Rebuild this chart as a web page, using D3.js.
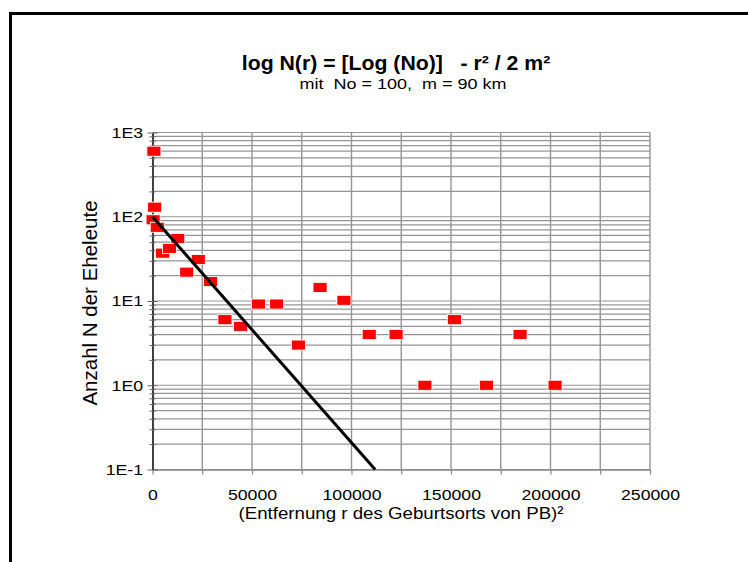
<!DOCTYPE html>
<html>
<head>
<meta charset="utf-8">
<script src="https://cdn.jsdelivr.net/npm/d3@7"></script>
<style>
  body { margin: 0; background: #fff; }
  svg text { font-family: Arial, "Liberation Sans", sans-serif; }
</style>
</head>
<body>
<div id="chart"></div>
<script>
// squared distance r^2 and number of couples N
const distSq = [700, 1100, 300, 2400, 5100, 8500, 12700, 17200, 23000, 29200, 36400, 44300,
    53200, 62400, 73300, 84200, 96200, 108900, 122400, 136900, 151700, 167900, 184700, 202300];
const counts = [600, 130, 92, 75, 37, 42, 55, 22, 31, 17, 6, 5,
    9.2, 9.2, 3, 14.5, 10.2, 4, 4, 1, 6, 1, 4, 1];

// model line: N = 100 at r^2 = 0 down to 0.1 at r^2 ~ 111900
const modelX = [0, 111900];
const modelY = [100, 0.1];

const xTicks = [0, 50000, 100000, 150000, 200000, 250000];
const yTickLabels = ["1E-1", "1E0", "1E1", "1E2", "1E3"];
const yDecades = [0.1, 1, 10, 100, 1000];

const width = 748, height = 562;
const plot = { left: 152.5, right: 650, top: 132.5, bottom: 469.5 };

const svg = d3.select("#chart")
    .append("svg")
    .attr("width", width)
    .attr("height", height);

const x = d3.scaleLinear().domain([0, 250000]).range([plot.left, plot.right]);
const y = d3.scaleLog().domain([0.1, 1000]).range([plot.bottom, plot.top]);

// outer frame, runs off the right and bottom of the picture
svg.append("rect")
    .attr("x", 10.5).attr("y", 13.5)
    .attr("width", 900).attr("height", 700)
    .attr("fill", "none")
    .attr("stroke", "#000")
    .attr("stroke-width", 3);

// horizontal gridlines (major + minor)
const yGrid = [];
yDecades.slice(0, 4).forEach(function(d) {
    for (let k = 1; k < 10; k++) yGrid.push(d * k);
});
yGrid.push(1000);

svg.append("g")
    .selectAll("line")
    .data(yGrid)
    .join("line")
    .attr("x1", plot.left).attr("x2", plot.right)
    .attr("y1", function(d) { return y(d); })
    .attr("y2", function(d) { return y(d); })
    .attr("stroke", "#959595")
    .attr("stroke-width", 1.2);

// vertical gridlines every 25000
const xGrid = d3.range(25000, 250001, 25000);
svg.append("g")
    .selectAll("line")
    .data(xGrid)
    .join("line")
    .attr("x1", function(d) { return x(d); })
    .attr("x2", function(d) { return x(d); })
    .attr("y1", plot.top).attr("y2", plot.bottom)
    .attr("stroke", "#959595")
    .attr("stroke-width", 1.4);

// text in the original is a little wider than plain Arial
const stretch = 1.18;

// x axis with ticks every 25000, labels every 50000
const xAxis = svg.append("g")
    .attr("transform", "translate(0," + plot.bottom + ")")
    .call(d3.axisBottom(x)
        .tickValues(d3.range(0, 250001, 25000))
        .tickSize(5)
        .tickSizeOuter(0)
        .tickFormat(function(d) { return xTicks.indexOf(d) >= 0 ? d : ""; }));
xAxis.select(".domain").attr("stroke", "#888").attr("stroke-width", 1.5);
xAxis.selectAll(".tick line").attr("stroke", "#888").attr("stroke-width", 1.2);
xAxis.selectAll(".tick text")
    .attr("y", 20)
    .attr("font-size", "15px")
    .attr("transform", "scale(" + stretch + ",1)")
    .attr("fill", "#000");

// y axis (log): major ticks cross the axis, minor ticks shorter
const yAxis = svg.append("g")
    .attr("transform", "translate(" + plot.left + ",0)")
    .call(d3.axisLeft(y)
        .tickValues(yGrid)
        .tickSize(0)
        .tickFormat(function(d) {
            const i = yDecades.indexOf(d);
            return i >= 0 ? yTickLabels[i] : "";
        }));
yAxis.select(".domain").attr("stroke", "#000").attr("stroke-width", 1.5);
yAxis.selectAll(".tick text")
    .attr("x", -8)
    .attr("font-size", "15px")
    .attr("transform", "scale(" + stretch + ",1)")
    .attr("fill", "#000");
yAxis.selectAll(".tick")
    .append("line")
    .attr("x1", function(d) { return yDecades.indexOf(d) >= 0 ? -5 : -3; })
    .attr("x2", function(d) { return yDecades.indexOf(d) >= 0 ? 5 : 3; })
    .attr("stroke", "#666")
    .attr("stroke-width", 1);

// data markers
svg.append("g")
    .selectAll("rect")
    .data(distSq.map(function(d, i) { return { r2: d, n: counts[i] }; }))
    .join("rect")
    .attr("x", function(d) { return x(d.r2) - 7; })
    .attr("y", function(d) { return y(d.n) - 5; })
    .attr("width", 14)
    .attr("height", 10)
    .attr("fill", "#ff0000")
    .attr("stroke", "#fff")
    .attr("stroke-width", 0.8);

// model line
svg.append("path")
    .datum(modelX.map(function(d, i) { return [d, modelY[i]]; }))
    .attr("d", d3.line()
        .x(function(d) { return x(d[0]); })
        .y(function(d) { return y(d[1]); }))
    .attr("fill", "none")
    .attr("stroke", "#000")
    .attr("stroke-width", 3);

// titles
svg.append("text")
    .attr("transform", "translate(396,70) scale(1.09,1)")
    .attr("text-anchor", "middle")
    .attr("font-size", "19.5px")
    .attr("font-weight", "bold")
    .attr("xml:space", "preserve")
    .text("log N(r) = [Log (No)]   - r² / 2 m²");

svg.append("text")
    .attr("transform", "translate(403,89) scale(1.2,1)")
    .attr("text-anchor", "middle")
    .attr("font-size", "15px")
    .attr("xml:space", "preserve")
    .text("mit  No = 100,  m = 90 km");

svg.append("text")
    .attr("transform", "translate(401,519) scale(1.1,1)")
    .attr("text-anchor", "middle")
    .attr("font-size", "17px")
    .text("(Entfernung r des Geburtsorts von PB)²");

svg.append("text")
    .attr("transform", "translate(97,303) rotate(-90)")
    .attr("text-anchor", "middle")
    .attr("font-size", "20.5px")
    .text("Anzahl N der Eheleute");
</script>
</body>
</html>
